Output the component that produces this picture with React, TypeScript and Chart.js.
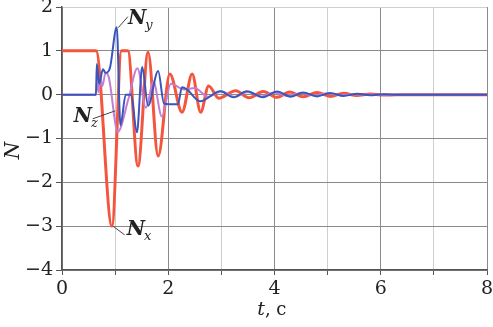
import React, { useEffect, useRef } from "react";
import { Chart, registerables } from "chart.js";

Chart.register(...registerables);

// Nx (red)
const nxT = [0, 0.64, 0.94, 1.12, 1.24, 1.43, 1.62, 1.81, 2.03, 2.26, 2.45, 2.61, 2.76, 2.95, 3.27, 3.52, 3.79, 4.04, 4.29, 4.54, 4.8, 5.05, 5.3, 5.55, 5.8, 6.05, 6.3, 8];
const nxV = [1, 1, -3.0, 1.0, 1.0, -1.63, 0.97, -1.4, 0.47, -0.4, 0.47, -0.4, 0.2, -0.08, 0.09, -0.07, 0.07, -0.06, 0.06, -0.05, 0.05, -0.04, 0.03, -0.02, 0.015, -0.01, 0, 0];

// Ny (blue)
const nyT = [0, 0.64, 0.655, 0.7, 0.77, 0.82, 0.9, 1.03, 1.1, 1.2, 1.3, 1.41, 1.51, 1.62, 1.81, 1.92, 2.18, 2.26, 2.35, 2.6, 2.98, 3.23, 3.48, 3.78, 4.05, 4.3, 4.54, 4.8, 5.05, 5.3, 5.56, 5.8, 6.05, 6.3, 8];
const nyV = [0, 0, 0.7, 0.25, 0.58, 0.5, 0.6, 1.54, -0.7, 0.0, 0.0, -0.86, 0.63, -0.25, 0.54, -0.2, -0.22, 0.17, 0.12, -0.15, 0.08, -0.06, 0.08, -0.06, 0.07, -0.05, 0.05, -0.04, 0.04, -0.03, 0.02, -0.015, 0.01, 0, 0];

// Nz (purple)
const nzT = [0, 0.64, 0.66, 0.69, 0.72, 0.76, 0.82, 0.88, 1.05, 1.25, 1.42, 1.58, 1.72, 1.88, 2.05, 2.3, 2.5, 2.75, 3.0, 3.25, 3.5, 3.75, 4.0, 4.25, 4.5, 4.75, 5.0, 5.25, 5.5, 6.0, 8];
const nzV = [0, 0, 0.35, 0.05, 0.4, 0.2, 0.5, 0.4, -0.85, -0.1, 0.6, -0.3, 0.3, -0.5, 0.25, 0.12, 0.15, -0.05, 0.08, -0.05, 0.06, -0.04, 0.05, -0.03, 0.04, -0.02, 0.03, -0.01, 0.01, 0, 0];

const xTickLabels = ["0", "2", "4", "6", "8"];
const yTickLabels = ["2", "1", "0", "\u22121", "\u22122", "\u22123", "\u22124"];

const pts = (t: number[], v: number[]) => t.map((x, i) => ({ x, y: v[i] }));

const SERIF = "'DejaVu Serif', 'Liberation Serif', serif";

const annotPlugin = {
  id: "annot",
  afterDraw(chart: any) {
    const ctx = chart.ctx as CanvasRenderingContext2D;
    const xs = chart.scales.x;
    const ys = chart.scales.y;
    ctx.save();
    ctx.fillStyle = "#222";
    // y title
    ctx.save();
    ctx.translate(14, (ys.top + ys.bottom) / 2 + 12);
    ctx.rotate(-Math.PI / 2);
    ctx.font = `italic 20px ${SERIF}`;
    ctx.textAlign = "center";
    ctx.textBaseline = "middle";
    ctx.fillText("N", 0, 0);
    ctx.restore();
    // x title
    ctx.font = `italic 19px ${SERIF}`;
    const w1 = ctx.measureText("t").width;
    ctx.font = `18px ${SERIF}`;
    const w2 = ctx.measureText(", c").width;
    const cx = xs.getPixelForValue(3.95);
    const sx = cx - (w1 + w2) / 2;
    ctx.textBaseline = "alphabetic";
    ctx.textAlign = "left";
    ctx.font = `italic 19px ${SERIF}`;
    ctx.fillText("t", sx, 315);
    ctx.font = `18px ${SERIF}`;
    ctx.fillText(", c", sx + w1, 315);

    // series labels
    const label = (sub: string, t: number, n: number, t1: number, n1: number, t2: number, n2: number) => {
      const px = xs.getPixelForValue(t);
      const py = ys.getPixelForValue(n);
      ctx.strokeStyle = "#444";
      ctx.lineWidth = 1;
      ctx.beginPath();
      ctx.moveTo(xs.getPixelForValue(t1), ys.getPixelForValue(n1));
      ctx.lineTo(xs.getPixelForValue(t2), ys.getPixelForValue(n2));
      ctx.stroke();
      ctx.font = `italic bold 20px ${SERIF}`;
      ctx.fillStyle = "#222";
      ctx.fillText("N", px, py);
      const wn = ctx.measureText("N").width;
      ctx.font = `italic 13px ${SERIF}`;
      ctx.fillText(sub, px + wn - 1, py + 5);
    };
    label("y", 1.24, 1.62, 1.06, 1.53, 1.24, 1.78);
    label("z", 0.22, -0.62, 0.58, -0.55, 1.0, -0.37);
    label("x", 1.22, -3.2, 0.96, -3.0, 1.18, -3.2);
    ctx.restore();
  },
};

export default function App() {
  const ref = useRef<HTMLCanvasElement>(null);
  useEffect(() => {
    document.body.style.margin = "0";
    const chart = new Chart(ref.current!, {
      type: "line",
      data: {
        datasets: [
          {
            label: "Ny",
            data: pts(nyT, nyV),
            borderColor: "#3a55bb",
            borderWidth: 2,
            pointRadius: 0,
            cubicInterpolationMode: "monotone",
            order: 1,
          },
          {
            label: "Nz",
            data: pts(nzT, nzV),
            borderColor: "#c27fd2",
            borderWidth: 2,
            pointRadius: 0,
            cubicInterpolationMode: "monotone",
            order: 2,
          },
          {
            label: "Nx",
            data: pts(nxT, nxV),
            borderColor: "#f4553d",
            borderWidth: 3,
            pointRadius: 0,
            cubicInterpolationMode: "monotone",
            order: 3,
          },
        ],
      },
      options: {
        responsive: false,
        animation: false,
        layout: { padding: { top: 7, right: 6, left: 0, bottom: 0 } },
        plugins: { legend: { display: false }, tooltip: { enabled: false } },
        scales: {
          x: {
            type: "linear",
            min: 0,
            max: 8,
            afterFit: (s: any) => {
              s.height = 57;
              s.paddingLeft = 0;
              s.paddingRight = 0;
            },
            ticks: {
              stepSize: 1,
              color: "#222",
              font: { family: SERIF, size: 19 },
              padding: 3,
              maxRotation: 0,
              callback: (v: any) => (Number(v) % 2 === 0 ? xTickLabels[Number(v) / 2] : ""),
            },
            grid: {
              color: (c: any) => {
                const v = c.tick ? c.tick.value : 0;
                return v % 2 === 0 ? "#8a8a8a" : "#cfcfcf";
              },
              tickColor: "#555",
              tickLength: 5,
            },
            border: { color: "#555", width: 1.5 },
          },
          y: {
            type: "linear",
            min: -4,
            max: 2,
            afterFit: (s: any) => {
              s.width = 62;
              s.paddingTop = 0;
              s.paddingBottom = 0;
            },
            ticks: {
              stepSize: 0.5,
              color: "#222",
              font: { family: SERIF, size: 19 },
              padding: 3,
              callback: (v: any) => (Number.isInteger(Number(v)) ? yTickLabels[2 - Number(v)] : ""),
            },
            grid: {
              color: (c: any) => {
                const v = c.tick ? c.tick.value : 0;
                if (v === 2) return "#cfcfcf";
                return Number.isInteger(v) ? "#8a8a8a" : "#d4d4d4";
              },
              tickColor: "#555",
              tickLength: 6,
            },
            border: { color: "#555", width: 1.5 },
          },
        },
      },
      plugins: [annotPlugin],
    } as any);
    return () => chart.destroy();
  }, []);
  return (
    <div style={{ width: 493, height: 327, background: "#fff" }}>
      <canvas ref={ref} width={493} height={327} />
    </div>
  );
}
